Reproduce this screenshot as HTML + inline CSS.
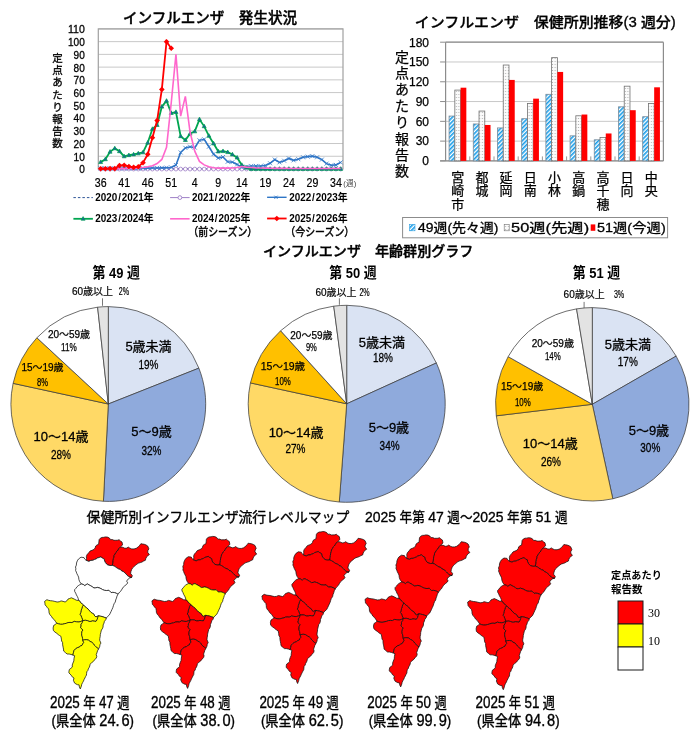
<!DOCTYPE html>
<html><head><meta charset="utf-8"><style>
html,body{margin:0;padding:0;background:#fff;width:700px;height:738px;overflow:hidden}
svg{display:block;font-family:"Liberation Sans", "Noto Sans CJK JP", sans-serif}
</style></head><body>
<svg width="700" height="738" viewBox="0 0 700 738">
<g id="linechart">
<text x="210.0" y="23.0" font-size="14.5" text-anchor="middle" font-weight="500" fill="#000" stroke="#000" stroke-width="0.4" textLength="174" lengthAdjust="spacingAndGlyphs" >インフルエンザ　発生状況</text>
<line x1="98.3" y1="169.00" x2="343.0" y2="169.00" stroke="#c8c8c8" stroke-width="1"/>
<line x1="98.3" y1="156.26" x2="343.0" y2="156.26" stroke="#c8c8c8" stroke-width="1"/>
<line x1="98.3" y1="143.53" x2="343.0" y2="143.53" stroke="#c8c8c8" stroke-width="1"/>
<line x1="98.3" y1="130.79" x2="343.0" y2="130.79" stroke="#c8c8c8" stroke-width="1"/>
<line x1="98.3" y1="118.05" x2="343.0" y2="118.05" stroke="#c8c8c8" stroke-width="1"/>
<line x1="98.3" y1="105.32" x2="343.0" y2="105.32" stroke="#c8c8c8" stroke-width="1"/>
<line x1="98.3" y1="92.58" x2="343.0" y2="92.58" stroke="#c8c8c8" stroke-width="1"/>
<line x1="98.3" y1="79.85" x2="343.0" y2="79.85" stroke="#c8c8c8" stroke-width="1"/>
<line x1="98.3" y1="67.11" x2="343.0" y2="67.11" stroke="#c8c8c8" stroke-width="1"/>
<line x1="98.3" y1="54.37" x2="343.0" y2="54.37" stroke="#c8c8c8" stroke-width="1"/>
<line x1="98.3" y1="41.64" x2="343.0" y2="41.64" stroke="#c8c8c8" stroke-width="1"/>
<line x1="98.3" y1="28.90" x2="343.0" y2="28.90" stroke="#c8c8c8" stroke-width="1"/>
<rect x="98.3" y="28.9" width="244.7" height="140.1" fill="none" stroke="#a0a0a0" stroke-width="1.2"/>
<text x="84.8" y="173.3" font-size="11" text-anchor="end" font-weight="normal" fill="#000" stroke="#000" stroke-width="0.3" textLength="5.6" lengthAdjust="spacingAndGlyphs" >0</text>
<text x="84.8" y="160.6" font-size="11" text-anchor="end" font-weight="normal" fill="#000" stroke="#000" stroke-width="0.3" textLength="11.2" lengthAdjust="spacingAndGlyphs" >10</text>
<text x="84.8" y="147.9" font-size="11" text-anchor="end" font-weight="normal" fill="#000" stroke="#000" stroke-width="0.3" textLength="11.2" lengthAdjust="spacingAndGlyphs" >20</text>
<text x="84.8" y="135.1" font-size="11" text-anchor="end" font-weight="normal" fill="#000" stroke="#000" stroke-width="0.3" textLength="11.2" lengthAdjust="spacingAndGlyphs" >30</text>
<text x="84.8" y="122.4" font-size="11" text-anchor="end" font-weight="normal" fill="#000" stroke="#000" stroke-width="0.3" textLength="11.2" lengthAdjust="spacingAndGlyphs" >40</text>
<text x="84.8" y="109.7" font-size="11" text-anchor="end" font-weight="normal" fill="#000" stroke="#000" stroke-width="0.3" textLength="11.2" lengthAdjust="spacingAndGlyphs" >50</text>
<text x="84.8" y="96.9" font-size="11" text-anchor="end" font-weight="normal" fill="#000" stroke="#000" stroke-width="0.3" textLength="11.2" lengthAdjust="spacingAndGlyphs" >60</text>
<text x="84.8" y="84.2" font-size="11" text-anchor="end" font-weight="normal" fill="#000" stroke="#000" stroke-width="0.3" textLength="11.2" lengthAdjust="spacingAndGlyphs" >70</text>
<text x="84.8" y="71.5" font-size="11" text-anchor="end" font-weight="normal" fill="#000" stroke="#000" stroke-width="0.3" textLength="11.2" lengthAdjust="spacingAndGlyphs" >80</text>
<text x="84.8" y="58.7" font-size="11" text-anchor="end" font-weight="normal" fill="#000" stroke="#000" stroke-width="0.3" textLength="11.2" lengthAdjust="spacingAndGlyphs" >90</text>
<text x="84.8" y="46.0" font-size="11" text-anchor="end" font-weight="normal" fill="#000" stroke="#000" stroke-width="0.3" textLength="16.799999999999997" lengthAdjust="spacingAndGlyphs" >100</text>
<text x="84.8" y="33.3" font-size="11" text-anchor="end" font-weight="normal" fill="#000" stroke="#000" stroke-width="0.3" textLength="16.799999999999997" lengthAdjust="spacingAndGlyphs" >110</text>
<text x="57.5" y="62.0" font-size="10.5" text-anchor="middle" font-weight="normal" fill="#000" stroke="#000" stroke-width="0.3" >定</text>
<text x="57.5" y="74.2" font-size="10.5" text-anchor="middle" font-weight="normal" fill="#000" stroke="#000" stroke-width="0.3" >点</text>
<text x="57.5" y="86.4" font-size="10.5" text-anchor="middle" font-weight="normal" fill="#000" stroke="#000" stroke-width="0.3" >あ</text>
<text x="57.5" y="98.6" font-size="10.5" text-anchor="middle" font-weight="normal" fill="#000" stroke="#000" stroke-width="0.3" >た</text>
<text x="57.5" y="110.8" font-size="10.5" text-anchor="middle" font-weight="normal" fill="#000" stroke="#000" stroke-width="0.3" >り</text>
<text x="57.5" y="123.0" font-size="10.5" text-anchor="middle" font-weight="normal" fill="#000" stroke="#000" stroke-width="0.3" >報</text>
<text x="57.5" y="135.2" font-size="10.5" text-anchor="middle" font-weight="normal" fill="#000" stroke="#000" stroke-width="0.3" >告</text>
<text x="57.5" y="147.4" font-size="10.5" text-anchor="middle" font-weight="normal" fill="#000" stroke="#000" stroke-width="0.3" >数</text>
<text x="100.7" y="186.9" font-size="12" text-anchor="middle" font-weight="normal" fill="#000" stroke="#000" stroke-width="0.2" textLength="11.8" lengthAdjust="spacingAndGlyphs" >36</text>
<text x="124.2" y="186.9" font-size="12" text-anchor="middle" font-weight="normal" fill="#000" stroke="#000" stroke-width="0.2" textLength="11.8" lengthAdjust="spacingAndGlyphs" >41</text>
<text x="147.7" y="186.9" font-size="12" text-anchor="middle" font-weight="normal" fill="#000" stroke="#000" stroke-width="0.2" textLength="11.8" lengthAdjust="spacingAndGlyphs" >46</text>
<text x="171.2" y="186.9" font-size="12" text-anchor="middle" font-weight="normal" fill="#000" stroke="#000" stroke-width="0.2" textLength="11.8" lengthAdjust="spacingAndGlyphs" >51</text>
<text x="194.8" y="186.9" font-size="12" text-anchor="middle" font-weight="normal" fill="#000" stroke="#000" stroke-width="0.2" textLength="5.9" lengthAdjust="spacingAndGlyphs" >4</text>
<text x="218.3" y="186.9" font-size="12" text-anchor="middle" font-weight="normal" fill="#000" stroke="#000" stroke-width="0.2" textLength="5.9" lengthAdjust="spacingAndGlyphs" >9</text>
<text x="241.8" y="186.9" font-size="12" text-anchor="middle" font-weight="normal" fill="#000" stroke="#000" stroke-width="0.2" textLength="11.8" lengthAdjust="spacingAndGlyphs" >14</text>
<text x="265.4" y="186.9" font-size="12" text-anchor="middle" font-weight="normal" fill="#000" stroke="#000" stroke-width="0.2" textLength="11.8" lengthAdjust="spacingAndGlyphs" >19</text>
<text x="288.9" y="186.9" font-size="12" text-anchor="middle" font-weight="normal" fill="#000" stroke="#000" stroke-width="0.2" textLength="11.8" lengthAdjust="spacingAndGlyphs" >24</text>
<text x="312.4" y="186.9" font-size="12" text-anchor="middle" font-weight="normal" fill="#000" stroke="#000" stroke-width="0.2" textLength="11.8" lengthAdjust="spacingAndGlyphs" >29</text>
<text x="335.9" y="186.9" font-size="12" text-anchor="middle" font-weight="normal" fill="#000" stroke="#000" stroke-width="0.2" textLength="11.8" lengthAdjust="spacingAndGlyphs" >34</text>
<text x="349.8" y="186.3" font-size="7.5" text-anchor="middle" font-weight="normal" fill="#444" textLength="13" lengthAdjust="spacingAndGlyphs" >(週)</text>
<path d="M100.65,168.62 L105.36,168.62 L110.06,168.62 L114.77,168.62 L119.48,168.62 L124.18,168.62 L128.89,168.62 L133.59,168.62 L138.30,168.62 L143.00,168.62 L147.71,168.62 L152.42,168.62 L157.12,168.62 L161.83,168.62 L166.53,168.62 L171.24,168.62 L175.95,168.62 L180.65,168.62 L185.36,168.62 L190.06,168.62 L194.77,168.62 L199.47,168.62 L204.18,168.62 L208.89,168.62 L213.59,168.62 L218.30,168.62 L223.00,168.62 L227.71,168.62 L232.41,168.62 L237.12,168.62 L241.83,168.62 L246.53,168.62 L251.24,168.62 L255.94,168.62 L260.65,168.62 L265.35,168.62 L270.06,168.62 L274.77,168.62 L279.47,168.62 L284.18,168.62 L288.88,168.62 L293.59,168.62 L298.30,168.62 L303.00,168.62 L307.71,168.62 L312.41,168.62 L317.12,168.62 L321.82,168.62 L326.53,168.62 L331.24,168.62 L335.94,168.62 L340.65,168.62" fill="none" stroke="#2f5597" stroke-width="1" stroke-dasharray="2.5,2"/>
<path d="M100.65,169.06 L105.36,169.06 L110.06,169.06 L114.77,169.06 L119.48,169.06 L124.18,169.06 L128.89,169.06 L133.59,169.06 L138.30,169.06 L143.00,169.06 L147.71,169.06 L152.42,169.06 L157.12,169.06 L161.83,169.06 L166.53,169.06 L171.24,169.06 L175.95,169.06 L180.65,169.06 L185.36,169.06 L190.06,169.06 L194.77,169.06 L199.47,169.06 L204.18,169.06 L208.89,169.06 L213.59,169.06 L218.30,169.06 L223.00,169.06 L227.71,169.06 L232.41,169.06 L237.12,169.06 L241.83,169.06 L246.53,169.06 L251.24,169.06 L255.94,169.06 L260.65,169.06 L265.35,169.06 L270.06,169.06 L274.77,169.06 L279.47,169.06 L284.18,169.06 L288.88,169.06 L293.59,169.06 L298.30,169.06 L303.00,169.06 L307.71,169.06 L312.41,169.06 L317.12,169.06 L321.82,169.06 L326.53,169.06 L331.24,169.06 L335.94,169.06 L340.65,169.06" fill="none" stroke="#9e7fc6" stroke-width="1"/>
<circle cx="100.65" cy="169.06" r="1.9" fill="#fff" stroke="#9e7fc6" stroke-width="0.8"/>
<circle cx="105.36" cy="169.06" r="1.9" fill="#fff" stroke="#9e7fc6" stroke-width="0.8"/>
<circle cx="110.06" cy="169.06" r="1.9" fill="#fff" stroke="#9e7fc6" stroke-width="0.8"/>
<circle cx="114.77" cy="169.06" r="1.9" fill="#fff" stroke="#9e7fc6" stroke-width="0.8"/>
<circle cx="119.48" cy="169.06" r="1.9" fill="#fff" stroke="#9e7fc6" stroke-width="0.8"/>
<circle cx="124.18" cy="169.06" r="1.9" fill="#fff" stroke="#9e7fc6" stroke-width="0.8"/>
<circle cx="128.89" cy="169.06" r="1.9" fill="#fff" stroke="#9e7fc6" stroke-width="0.8"/>
<circle cx="133.59" cy="169.06" r="1.9" fill="#fff" stroke="#9e7fc6" stroke-width="0.8"/>
<circle cx="138.30" cy="169.06" r="1.9" fill="#fff" stroke="#9e7fc6" stroke-width="0.8"/>
<circle cx="143.00" cy="169.06" r="1.9" fill="#fff" stroke="#9e7fc6" stroke-width="0.8"/>
<circle cx="147.71" cy="169.06" r="1.9" fill="#fff" stroke="#9e7fc6" stroke-width="0.8"/>
<circle cx="152.42" cy="169.06" r="1.9" fill="#fff" stroke="#9e7fc6" stroke-width="0.8"/>
<circle cx="157.12" cy="169.06" r="1.9" fill="#fff" stroke="#9e7fc6" stroke-width="0.8"/>
<circle cx="161.83" cy="169.06" r="1.9" fill="#fff" stroke="#9e7fc6" stroke-width="0.8"/>
<circle cx="166.53" cy="169.06" r="1.9" fill="#fff" stroke="#9e7fc6" stroke-width="0.8"/>
<circle cx="171.24" cy="169.06" r="1.9" fill="#fff" stroke="#9e7fc6" stroke-width="0.8"/>
<circle cx="175.95" cy="169.06" r="1.9" fill="#fff" stroke="#9e7fc6" stroke-width="0.8"/>
<circle cx="180.65" cy="169.06" r="1.9" fill="#fff" stroke="#9e7fc6" stroke-width="0.8"/>
<circle cx="185.36" cy="169.06" r="1.9" fill="#fff" stroke="#9e7fc6" stroke-width="0.8"/>
<circle cx="190.06" cy="169.06" r="1.9" fill="#fff" stroke="#9e7fc6" stroke-width="0.8"/>
<circle cx="194.77" cy="169.06" r="1.9" fill="#fff" stroke="#9e7fc6" stroke-width="0.8"/>
<circle cx="199.47" cy="169.06" r="1.9" fill="#fff" stroke="#9e7fc6" stroke-width="0.8"/>
<circle cx="204.18" cy="169.06" r="1.9" fill="#fff" stroke="#9e7fc6" stroke-width="0.8"/>
<circle cx="208.89" cy="169.06" r="1.9" fill="#fff" stroke="#9e7fc6" stroke-width="0.8"/>
<circle cx="213.59" cy="169.06" r="1.9" fill="#fff" stroke="#9e7fc6" stroke-width="0.8"/>
<circle cx="218.30" cy="169.06" r="1.9" fill="#fff" stroke="#9e7fc6" stroke-width="0.8"/>
<circle cx="223.00" cy="169.06" r="1.9" fill="#fff" stroke="#9e7fc6" stroke-width="0.8"/>
<circle cx="227.71" cy="169.06" r="1.9" fill="#fff" stroke="#9e7fc6" stroke-width="0.8"/>
<circle cx="232.41" cy="169.06" r="1.9" fill="#fff" stroke="#9e7fc6" stroke-width="0.8"/>
<circle cx="237.12" cy="169.06" r="1.9" fill="#fff" stroke="#9e7fc6" stroke-width="0.8"/>
<circle cx="241.83" cy="169.06" r="1.9" fill="#fff" stroke="#9e7fc6" stroke-width="0.8"/>
<circle cx="246.53" cy="169.06" r="1.9" fill="#fff" stroke="#9e7fc6" stroke-width="0.8"/>
<circle cx="251.24" cy="169.06" r="1.9" fill="#fff" stroke="#9e7fc6" stroke-width="0.8"/>
<circle cx="255.94" cy="169.06" r="1.9" fill="#fff" stroke="#9e7fc6" stroke-width="0.8"/>
<circle cx="260.65" cy="169.06" r="1.9" fill="#fff" stroke="#9e7fc6" stroke-width="0.8"/>
<circle cx="265.35" cy="169.06" r="1.9" fill="#fff" stroke="#9e7fc6" stroke-width="0.8"/>
<circle cx="270.06" cy="169.06" r="1.9" fill="#fff" stroke="#9e7fc6" stroke-width="0.8"/>
<circle cx="274.77" cy="169.06" r="1.9" fill="#fff" stroke="#9e7fc6" stroke-width="0.8"/>
<circle cx="279.47" cy="169.06" r="1.9" fill="#fff" stroke="#9e7fc6" stroke-width="0.8"/>
<circle cx="284.18" cy="169.06" r="1.9" fill="#fff" stroke="#9e7fc6" stroke-width="0.8"/>
<circle cx="288.88" cy="169.06" r="1.9" fill="#fff" stroke="#9e7fc6" stroke-width="0.8"/>
<circle cx="293.59" cy="169.06" r="1.9" fill="#fff" stroke="#9e7fc6" stroke-width="0.8"/>
<circle cx="298.30" cy="169.06" r="1.9" fill="#fff" stroke="#9e7fc6" stroke-width="0.8"/>
<circle cx="303.00" cy="169.06" r="1.9" fill="#fff" stroke="#9e7fc6" stroke-width="0.8"/>
<circle cx="307.71" cy="169.06" r="1.9" fill="#fff" stroke="#9e7fc6" stroke-width="0.8"/>
<circle cx="312.41" cy="169.06" r="1.9" fill="#fff" stroke="#9e7fc6" stroke-width="0.8"/>
<circle cx="317.12" cy="169.06" r="1.9" fill="#fff" stroke="#9e7fc6" stroke-width="0.8"/>
<circle cx="321.82" cy="169.06" r="1.9" fill="#fff" stroke="#9e7fc6" stroke-width="0.8"/>
<circle cx="326.53" cy="169.06" r="1.9" fill="#fff" stroke="#9e7fc6" stroke-width="0.8"/>
<circle cx="331.24" cy="169.06" r="1.9" fill="#fff" stroke="#9e7fc6" stroke-width="0.8"/>
<circle cx="335.94" cy="169.06" r="1.9" fill="#fff" stroke="#9e7fc6" stroke-width="0.8"/>
<circle cx="340.65" cy="169.06" r="1.9" fill="#fff" stroke="#9e7fc6" stroke-width="0.8"/>
<path d="M100.65,168.36 L105.36,168.36 L110.06,168.36 L114.77,168.36 L119.48,168.36 L124.18,168.36 L128.89,168.36 L133.59,168.36 L138.30,168.36 L143.00,168.24 L147.71,168.11 L152.42,167.98 L157.12,167.98 L161.83,167.85 L166.53,167.73 L171.24,167.47 L175.95,165.05 L180.65,152.44 L185.36,147.86 L190.06,146.71 L194.77,147.60 L199.47,140.34 L204.18,139.32 L208.89,146.71 L213.59,154.10 L218.30,158.05 L223.00,157.03 L227.71,161.74 L232.41,162.12 L237.12,164.41 L241.83,167.47 L246.53,166.71 L251.24,165.94 L255.94,165.94 L260.65,166.07 L265.35,165.56 L270.06,163.27 L274.77,159.58 L279.47,162.38 L284.18,160.72 L288.88,158.43 L293.59,160.34 L298.30,159.19 L303.00,157.28 L307.71,156.65 L312.41,156.14 L317.12,157.28 L321.82,159.58 L326.53,163.65 L331.24,165.31 L335.94,164.92 L340.65,162.38" fill="none" stroke="#2e75c6" stroke-width="1.6"/>
<path d="M98.65,166.36 L102.65,170.36 M98.65,170.36 L102.65,166.36" stroke="#2e75c6" stroke-width="0.8"/>
<path d="M103.36,166.36 L107.36,170.36 M103.36,170.36 L107.36,166.36" stroke="#2e75c6" stroke-width="0.8"/>
<path d="M108.06,166.36 L112.06,170.36 M108.06,170.36 L112.06,166.36" stroke="#2e75c6" stroke-width="0.8"/>
<path d="M112.77,166.36 L116.77,170.36 M112.77,170.36 L116.77,166.36" stroke="#2e75c6" stroke-width="0.8"/>
<path d="M117.48,166.36 L121.48,170.36 M117.48,170.36 L121.48,166.36" stroke="#2e75c6" stroke-width="0.8"/>
<path d="M122.18,166.36 L126.18,170.36 M122.18,170.36 L126.18,166.36" stroke="#2e75c6" stroke-width="0.8"/>
<path d="M126.89,166.36 L130.89,170.36 M126.89,170.36 L130.89,166.36" stroke="#2e75c6" stroke-width="0.8"/>
<path d="M131.59,166.36 L135.59,170.36 M131.59,170.36 L135.59,166.36" stroke="#2e75c6" stroke-width="0.8"/>
<path d="M136.30,166.36 L140.30,170.36 M136.30,170.36 L140.30,166.36" stroke="#2e75c6" stroke-width="0.8"/>
<path d="M141.00,166.24 L145.00,170.24 M141.00,170.24 L145.00,166.24" stroke="#2e75c6" stroke-width="0.8"/>
<path d="M145.71,166.11 L149.71,170.11 M145.71,170.11 L149.71,166.11" stroke="#2e75c6" stroke-width="0.8"/>
<path d="M150.42,165.98 L154.42,169.98 M150.42,169.98 L154.42,165.98" stroke="#2e75c6" stroke-width="0.8"/>
<path d="M155.12,165.98 L159.12,169.98 M155.12,169.98 L159.12,165.98" stroke="#2e75c6" stroke-width="0.8"/>
<path d="M159.83,165.85 L163.83,169.85 M159.83,169.85 L163.83,165.85" stroke="#2e75c6" stroke-width="0.8"/>
<path d="M164.53,165.73 L168.53,169.73 M164.53,169.73 L168.53,165.73" stroke="#2e75c6" stroke-width="0.8"/>
<path d="M169.24,165.47 L173.24,169.47 M169.24,169.47 L173.24,165.47" stroke="#2e75c6" stroke-width="0.8"/>
<path d="M173.95,163.05 L177.95,167.05 M173.95,167.05 L177.95,163.05" stroke="#2e75c6" stroke-width="0.8"/>
<path d="M178.65,150.44 L182.65,154.44 M178.65,154.44 L182.65,150.44" stroke="#2e75c6" stroke-width="0.8"/>
<path d="M183.36,145.86 L187.36,149.86 M183.36,149.86 L187.36,145.86" stroke="#2e75c6" stroke-width="0.8"/>
<path d="M188.06,144.71 L192.06,148.71 M188.06,148.71 L192.06,144.71" stroke="#2e75c6" stroke-width="0.8"/>
<path d="M192.77,145.60 L196.77,149.60 M192.77,149.60 L196.77,145.60" stroke="#2e75c6" stroke-width="0.8"/>
<path d="M197.47,138.34 L201.47,142.34 M197.47,142.34 L201.47,138.34" stroke="#2e75c6" stroke-width="0.8"/>
<path d="M202.18,137.32 L206.18,141.32 M202.18,141.32 L206.18,137.32" stroke="#2e75c6" stroke-width="0.8"/>
<path d="M206.89,144.71 L210.89,148.71 M206.89,148.71 L210.89,144.71" stroke="#2e75c6" stroke-width="0.8"/>
<path d="M211.59,152.10 L215.59,156.10 M211.59,156.10 L215.59,152.10" stroke="#2e75c6" stroke-width="0.8"/>
<path d="M216.30,156.05 L220.30,160.05 M216.30,160.05 L220.30,156.05" stroke="#2e75c6" stroke-width="0.8"/>
<path d="M221.00,155.03 L225.00,159.03 M221.00,159.03 L225.00,155.03" stroke="#2e75c6" stroke-width="0.8"/>
<path d="M225.71,159.74 L229.71,163.74 M225.71,163.74 L229.71,159.74" stroke="#2e75c6" stroke-width="0.8"/>
<path d="M230.41,160.12 L234.41,164.12 M230.41,164.12 L234.41,160.12" stroke="#2e75c6" stroke-width="0.8"/>
<path d="M235.12,162.41 L239.12,166.41 M235.12,166.41 L239.12,162.41" stroke="#2e75c6" stroke-width="0.8"/>
<path d="M239.83,165.47 L243.83,169.47 M239.83,169.47 L243.83,165.47" stroke="#2e75c6" stroke-width="0.8"/>
<path d="M244.53,164.71 L248.53,168.71 M244.53,168.71 L248.53,164.71" stroke="#2e75c6" stroke-width="0.8"/>
<path d="M249.24,163.94 L253.24,167.94 M249.24,167.94 L253.24,163.94" stroke="#2e75c6" stroke-width="0.8"/>
<path d="M253.94,163.94 L257.94,167.94 M253.94,167.94 L257.94,163.94" stroke="#2e75c6" stroke-width="0.8"/>
<path d="M258.65,164.07 L262.65,168.07 M258.65,168.07 L262.65,164.07" stroke="#2e75c6" stroke-width="0.8"/>
<path d="M263.35,163.56 L267.35,167.56 M263.35,167.56 L267.35,163.56" stroke="#2e75c6" stroke-width="0.8"/>
<path d="M268.06,161.27 L272.06,165.27 M268.06,165.27 L272.06,161.27" stroke="#2e75c6" stroke-width="0.8"/>
<path d="M272.77,157.58 L276.77,161.58 M272.77,161.58 L276.77,157.58" stroke="#2e75c6" stroke-width="0.8"/>
<path d="M277.47,160.38 L281.47,164.38 M277.47,164.38 L281.47,160.38" stroke="#2e75c6" stroke-width="0.8"/>
<path d="M282.18,158.72 L286.18,162.72 M282.18,162.72 L286.18,158.72" stroke="#2e75c6" stroke-width="0.8"/>
<path d="M286.88,156.43 L290.88,160.43 M286.88,160.43 L290.88,156.43" stroke="#2e75c6" stroke-width="0.8"/>
<path d="M291.59,158.34 L295.59,162.34 M291.59,162.34 L295.59,158.34" stroke="#2e75c6" stroke-width="0.8"/>
<path d="M296.30,157.19 L300.30,161.19 M296.30,161.19 L300.30,157.19" stroke="#2e75c6" stroke-width="0.8"/>
<path d="M301.00,155.28 L305.00,159.28 M301.00,159.28 L305.00,155.28" stroke="#2e75c6" stroke-width="0.8"/>
<path d="M305.71,154.65 L309.71,158.65 M305.71,158.65 L309.71,154.65" stroke="#2e75c6" stroke-width="0.8"/>
<path d="M310.41,154.14 L314.41,158.14 M310.41,158.14 L314.41,154.14" stroke="#2e75c6" stroke-width="0.8"/>
<path d="M315.12,155.28 L319.12,159.28 M315.12,159.28 L319.12,155.28" stroke="#2e75c6" stroke-width="0.8"/>
<path d="M319.82,157.58 L323.82,161.58 M319.82,161.58 L323.82,157.58" stroke="#2e75c6" stroke-width="0.8"/>
<path d="M324.53,161.65 L328.53,165.65 M324.53,165.65 L328.53,161.65" stroke="#2e75c6" stroke-width="0.8"/>
<path d="M329.24,163.31 L333.24,167.31 M329.24,167.31 L333.24,163.31" stroke="#2e75c6" stroke-width="0.8"/>
<path d="M333.94,162.92 L337.94,166.92 M333.94,166.92 L337.94,162.92" stroke="#2e75c6" stroke-width="0.8"/>
<path d="M338.65,160.38 L342.65,164.38 M338.65,164.38 L342.65,160.38" stroke="#2e75c6" stroke-width="0.8"/>
<path d="M100.65,162.12 L105.36,159.32 L110.06,151.81 L114.77,148.37 L119.48,151.30 L124.18,156.39 L128.89,155.24 L133.59,154.48 L138.30,153.46 L143.00,152.44 L147.71,142.76 L152.42,129.01 L157.12,125.06 L161.83,106.72 L166.53,100.86 L171.24,113.09 L175.95,112.07 L180.65,136.27 L185.36,140.09 L190.06,133.72 L194.77,131.43 L199.47,119.33 L204.18,126.33 L208.89,135.89 L213.59,143.53 L218.30,151.55 L223.00,151.17 L227.71,152.19 L232.41,154.48 L237.12,157.66 L241.83,165.05 L246.53,167.73 L251.24,169.00 L255.94,169.00 L260.65,169.00 L265.35,169.00 L270.06,169.00 L274.77,169.00 L279.47,169.00 L284.18,169.00 L288.88,169.00 L293.59,169.00 L298.30,169.00 L303.00,169.00 L307.71,169.00 L312.41,169.00 L317.12,169.00 L321.82,169.00 L326.53,169.00 L331.24,169.00 L335.94,169.00 L340.65,169.00" fill="none" stroke="#00a550" stroke-width="1.8"/>
<path d="M100.65,159.92 L102.65,163.52 L98.65,163.52 Z" fill="#1f5fa0" stroke="#00a550" stroke-width="0.7"/>
<path d="M105.36,157.12 L107.36,160.72 L103.36,160.72 Z" fill="#1f5fa0" stroke="#00a550" stroke-width="0.7"/>
<path d="M110.06,149.61 L112.06,153.21 L108.06,153.21 Z" fill="#1f5fa0" stroke="#00a550" stroke-width="0.7"/>
<path d="M114.77,146.17 L116.77,149.77 L112.77,149.77 Z" fill="#1f5fa0" stroke="#00a550" stroke-width="0.7"/>
<path d="M119.48,149.10 L121.48,152.70 L117.48,152.70 Z" fill="#1f5fa0" stroke="#00a550" stroke-width="0.7"/>
<path d="M124.18,154.19 L126.18,157.79 L122.18,157.79 Z" fill="#1f5fa0" stroke="#00a550" stroke-width="0.7"/>
<path d="M128.89,153.04 L130.89,156.64 L126.89,156.64 Z" fill="#1f5fa0" stroke="#00a550" stroke-width="0.7"/>
<path d="M133.59,152.28 L135.59,155.88 L131.59,155.88 Z" fill="#1f5fa0" stroke="#00a550" stroke-width="0.7"/>
<path d="M138.30,151.26 L140.30,154.86 L136.30,154.86 Z" fill="#1f5fa0" stroke="#00a550" stroke-width="0.7"/>
<path d="M143.00,150.24 L145.00,153.84 L141.00,153.84 Z" fill="#1f5fa0" stroke="#00a550" stroke-width="0.7"/>
<path d="M147.71,140.56 L149.71,144.16 L145.71,144.16 Z" fill="#1f5fa0" stroke="#00a550" stroke-width="0.7"/>
<path d="M152.42,126.81 L154.42,130.41 L150.42,130.41 Z" fill="#1f5fa0" stroke="#00a550" stroke-width="0.7"/>
<path d="M157.12,122.86 L159.12,126.46 L155.12,126.46 Z" fill="#1f5fa0" stroke="#00a550" stroke-width="0.7"/>
<path d="M161.83,104.52 L163.83,108.12 L159.83,108.12 Z" fill="#1f5fa0" stroke="#00a550" stroke-width="0.7"/>
<path d="M166.53,98.66 L168.53,102.26 L164.53,102.26 Z" fill="#1f5fa0" stroke="#00a550" stroke-width="0.7"/>
<path d="M171.24,110.89 L173.24,114.49 L169.24,114.49 Z" fill="#1f5fa0" stroke="#00a550" stroke-width="0.7"/>
<path d="M175.95,109.87 L177.95,113.47 L173.95,113.47 Z" fill="#1f5fa0" stroke="#00a550" stroke-width="0.7"/>
<path d="M180.65,134.07 L182.65,137.67 L178.65,137.67 Z" fill="#1f5fa0" stroke="#00a550" stroke-width="0.7"/>
<path d="M185.36,137.89 L187.36,141.49 L183.36,141.49 Z" fill="#1f5fa0" stroke="#00a550" stroke-width="0.7"/>
<path d="M190.06,131.52 L192.06,135.12 L188.06,135.12 Z" fill="#1f5fa0" stroke="#00a550" stroke-width="0.7"/>
<path d="M194.77,129.23 L196.77,132.83 L192.77,132.83 Z" fill="#1f5fa0" stroke="#00a550" stroke-width="0.7"/>
<path d="M199.47,117.13 L201.47,120.73 L197.47,120.73 Z" fill="#1f5fa0" stroke="#00a550" stroke-width="0.7"/>
<path d="M204.18,124.13 L206.18,127.73 L202.18,127.73 Z" fill="#1f5fa0" stroke="#00a550" stroke-width="0.7"/>
<path d="M208.89,133.69 L210.89,137.29 L206.89,137.29 Z" fill="#1f5fa0" stroke="#00a550" stroke-width="0.7"/>
<path d="M213.59,141.33 L215.59,144.93 L211.59,144.93 Z" fill="#1f5fa0" stroke="#00a550" stroke-width="0.7"/>
<path d="M218.30,149.35 L220.30,152.95 L216.30,152.95 Z" fill="#1f5fa0" stroke="#00a550" stroke-width="0.7"/>
<path d="M223.00,148.97 L225.00,152.57 L221.00,152.57 Z" fill="#1f5fa0" stroke="#00a550" stroke-width="0.7"/>
<path d="M227.71,149.99 L229.71,153.59 L225.71,153.59 Z" fill="#1f5fa0" stroke="#00a550" stroke-width="0.7"/>
<path d="M232.41,152.28 L234.41,155.88 L230.41,155.88 Z" fill="#1f5fa0" stroke="#00a550" stroke-width="0.7"/>
<path d="M237.12,155.46 L239.12,159.06 L235.12,159.06 Z" fill="#1f5fa0" stroke="#00a550" stroke-width="0.7"/>
<path d="M241.83,162.85 L243.83,166.45 L239.83,166.45 Z" fill="#1f5fa0" stroke="#00a550" stroke-width="0.7"/>
<path d="M246.53,165.53 L248.53,169.13 L244.53,169.13 Z" fill="#1f5fa0" stroke="#00a550" stroke-width="0.7"/>
<path d="M251.24,166.80 L253.24,170.40 L249.24,170.40 Z" fill="#1f5fa0" stroke="#00a550" stroke-width="0.7"/>
<path d="M255.94,166.80 L257.94,170.40 L253.94,170.40 Z" fill="#1f5fa0" stroke="#00a550" stroke-width="0.7"/>
<path d="M260.65,166.80 L262.65,170.40 L258.65,170.40 Z" fill="#1f5fa0" stroke="#00a550" stroke-width="0.7"/>
<path d="M265.35,166.80 L267.35,170.40 L263.35,170.40 Z" fill="#1f5fa0" stroke="#00a550" stroke-width="0.7"/>
<path d="M270.06,166.80 L272.06,170.40 L268.06,170.40 Z" fill="#1f5fa0" stroke="#00a550" stroke-width="0.7"/>
<path d="M274.77,166.80 L276.77,170.40 L272.77,170.40 Z" fill="#1f5fa0" stroke="#00a550" stroke-width="0.7"/>
<path d="M279.47,166.80 L281.47,170.40 L277.47,170.40 Z" fill="#1f5fa0" stroke="#00a550" stroke-width="0.7"/>
<path d="M284.18,166.80 L286.18,170.40 L282.18,170.40 Z" fill="#1f5fa0" stroke="#00a550" stroke-width="0.7"/>
<path d="M288.88,166.80 L290.88,170.40 L286.88,170.40 Z" fill="#1f5fa0" stroke="#00a550" stroke-width="0.7"/>
<path d="M293.59,166.80 L295.59,170.40 L291.59,170.40 Z" fill="#1f5fa0" stroke="#00a550" stroke-width="0.7"/>
<path d="M298.30,166.80 L300.30,170.40 L296.30,170.40 Z" fill="#1f5fa0" stroke="#00a550" stroke-width="0.7"/>
<path d="M303.00,166.80 L305.00,170.40 L301.00,170.40 Z" fill="#1f5fa0" stroke="#00a550" stroke-width="0.7"/>
<path d="M307.71,166.80 L309.71,170.40 L305.71,170.40 Z" fill="#1f5fa0" stroke="#00a550" stroke-width="0.7"/>
<path d="M312.41,166.80 L314.41,170.40 L310.41,170.40 Z" fill="#1f5fa0" stroke="#00a550" stroke-width="0.7"/>
<path d="M317.12,166.80 L319.12,170.40 L315.12,170.40 Z" fill="#1f5fa0" stroke="#00a550" stroke-width="0.7"/>
<path d="M321.82,166.80 L323.82,170.40 L319.82,170.40 Z" fill="#1f5fa0" stroke="#00a550" stroke-width="0.7"/>
<path d="M326.53,166.80 L328.53,170.40 L324.53,170.40 Z" fill="#1f5fa0" stroke="#00a550" stroke-width="0.7"/>
<path d="M331.24,166.80 L333.24,170.40 L329.24,170.40 Z" fill="#1f5fa0" stroke="#00a550" stroke-width="0.7"/>
<path d="M335.94,166.80 L337.94,170.40 L333.94,170.40 Z" fill="#1f5fa0" stroke="#00a550" stroke-width="0.7"/>
<path d="M340.65,166.80 L342.65,170.40 L338.65,170.40 Z" fill="#1f5fa0" stroke="#00a550" stroke-width="0.7"/>
<path d="M100.65,168.62 L105.36,168.62 L110.06,168.62 L114.77,168.62 L119.48,168.62 L124.18,168.62 L128.89,168.49 L133.59,168.36 L138.30,167.98 L143.00,167.47 L147.71,166.71 L152.42,165.69 L157.12,163.52 L161.83,159.45 L166.53,147.35 L171.24,102.77 L175.95,54.37 L180.65,116.14 L185.36,96.40 L190.06,132.06 L194.77,151.17 L199.47,161.36 L204.18,164.92 L208.89,166.83 L213.59,167.73 L218.30,168.11 L223.00,168.11 L227.71,168.11 L232.41,167.98 L237.12,167.47 L241.83,166.45 L246.53,167.09 L251.24,167.47 L255.94,167.85 L260.65,167.98 L265.35,168.11 L270.06,168.24 L274.77,168.36 L279.47,168.36 L284.18,168.36 L288.88,168.49 L293.59,168.49 L298.30,168.49 L303.00,168.49 L307.71,168.49 L312.41,168.49 L317.12,168.49 L321.82,168.49 L326.53,168.49 L331.24,168.49 L335.94,168.49 L340.65,168.49" fill="none" stroke="#ff66cc" stroke-width="1.6"/>
<path d="M100.65,168.75 L105.36,168.75 L110.06,168.62 L114.77,168.62 L119.48,165.56 L124.18,165.18 L128.89,166.45 L133.59,167.34 L138.30,166.71 L143.00,162.76 L147.71,154.35 L152.42,137.67 L157.12,120.60 L161.83,89.40 L166.53,41.76 L171.24,48.26" fill="none" stroke="#ff0000" stroke-width="1.8"/>
<path d="M100.65,165.95 L103.45,168.75 L100.65,171.55 L97.85,168.75 Z" fill="#ff0000"/>
<path d="M105.36,165.95 L108.16,168.75 L105.36,171.55 L102.56,168.75 Z" fill="#ff0000"/>
<path d="M110.06,165.82 L112.86,168.62 L110.06,171.42 L107.26,168.62 Z" fill="#ff0000"/>
<path d="M114.77,165.82 L117.57,168.62 L114.77,171.42 L111.97,168.62 Z" fill="#ff0000"/>
<path d="M119.48,162.76 L122.28,165.56 L119.48,168.36 L116.68,165.56 Z" fill="#ff0000"/>
<path d="M124.18,162.38 L126.98,165.18 L124.18,167.98 L121.38,165.18 Z" fill="#ff0000"/>
<path d="M128.89,163.65 L131.69,166.45 L128.89,169.25 L126.09,166.45 Z" fill="#ff0000"/>
<path d="M133.59,164.54 L136.39,167.34 L133.59,170.14 L130.79,167.34 Z" fill="#ff0000"/>
<path d="M138.30,163.91 L141.10,166.71 L138.30,169.51 L135.50,166.71 Z" fill="#ff0000"/>
<path d="M143.00,159.96 L145.80,162.76 L143.00,165.56 L140.20,162.76 Z" fill="#ff0000"/>
<path d="M147.71,151.55 L150.51,154.35 L147.71,157.15 L144.91,154.35 Z" fill="#ff0000"/>
<path d="M152.42,134.87 L155.22,137.67 L152.42,140.47 L149.62,137.67 Z" fill="#ff0000"/>
<path d="M157.12,117.80 L159.92,120.60 L157.12,123.40 L154.32,120.60 Z" fill="#ff0000"/>
<path d="M161.83,86.60 L164.63,89.40 L161.83,92.20 L159.03,89.40 Z" fill="#ff0000"/>
<path d="M166.53,38.96 L169.33,41.76 L166.53,44.56 L163.73,41.76 Z" fill="#ff0000"/>
<path d="M171.24,45.46 L174.04,48.26 L171.24,51.06 L168.44,48.26 Z" fill="#ff0000"/>
<line x1="73.4" y1="197.6" x2="92.9" y2="197.6" stroke="#2f5597" stroke-width="1" stroke-dasharray="2.5,2"/>
<text x="95.3" y="201.0" font-size="10.5" text-anchor="start" font-weight="bold" fill="#000" textLength="58.4" lengthAdjust="spacingAndGlyphs" >2020<tspan dx="0.9">/</tspan><tspan dx="0.9">2021</tspan>年</text>
<line x1="170.1" y1="197.6" x2="189.6" y2="197.6" stroke="#9e7fc6" stroke-width="1"/>
<circle cx="179.9" cy="197.6" r="1.9" fill="#fff" stroke="#9e7fc6" stroke-width="0.9"/>
<text x="192.0" y="201.0" font-size="10.5" text-anchor="start" font-weight="bold" fill="#000" textLength="58.4" lengthAdjust="spacingAndGlyphs" >2021<tspan dx="0.9">/</tspan><tspan dx="0.9">2022</tspan>年</text>
<line x1="267.1" y1="197.3" x2="286.6" y2="197.3" stroke="#2e75c6" stroke-width="1.4"/>
<path d="M274.4,195.7 L277.6,198.9 M274.4,198.9 L277.6,195.7" stroke="#2e75c6" stroke-width="0.9"/>
<text x="289.2" y="201.0" font-size="10.5" text-anchor="start" font-weight="bold" fill="#000" textLength="58.4" lengthAdjust="spacingAndGlyphs" >2022<tspan dx="0.9">/</tspan><tspan dx="0.9">2023</tspan>年</text>
<line x1="73.4" y1="218.8" x2="92.9" y2="218.8" stroke="#00a550" stroke-width="1.8"/>
<path d="M83.1,216.6 L85.1,220.2 L81.1,220.2 Z" fill="#1f5fa0" stroke="#00a550" stroke-width="0.7"/>
<text x="95.3" y="222.0" font-size="10.5" text-anchor="start" font-weight="bold" fill="#000" textLength="58.4" lengthAdjust="spacingAndGlyphs" >2023<tspan dx="0.9">/</tspan><tspan dx="0.9">2024</tspan>年</text>
<line x1="170.1" y1="218.8" x2="189.6" y2="218.8" stroke="#ff66cc" stroke-width="1.6"/>
<text x="192.0" y="222.0" font-size="10.5" text-anchor="start" font-weight="bold" fill="#000" textLength="58.4" lengthAdjust="spacingAndGlyphs" >2024<tspan dx="0.9">/</tspan><tspan dx="0.9">2025</tspan>年</text>
<text x="188.3" y="236.3" font-size="11.5" text-anchor="start" font-weight="normal" fill="#000" stroke="#000" stroke-width="0.45" textLength="69" lengthAdjust="spacingAndGlyphs" >（前シーズン）</text>
<line x1="267.1" y1="218.5" x2="286.6" y2="218.5" stroke="#ff0000" stroke-width="1.8"/>
<path d="M276.8,215.7 L279.6,218.5 L276.8,221.3 L274,218.5 Z" fill="#ff0000"/>
<text x="289.2" y="222.0" font-size="10.5" text-anchor="start" font-weight="bold" fill="#000" textLength="58.4" lengthAdjust="spacingAndGlyphs" >2025<tspan dx="0.9">/</tspan><tspan dx="0.9">2026</tspan>年</text>
<text x="285.3" y="236.3" font-size="11.5" text-anchor="start" font-weight="normal" fill="#000" stroke="#000" stroke-width="0.45" textLength="69" lengthAdjust="spacingAndGlyphs" >（今シーズン）</text>
</g>
<g id="barchart">
<text x="545.3" y="27.4" font-size="14" text-anchor="middle" font-weight="500" fill="#000" stroke="#000" stroke-width="0.3" textLength="261" lengthAdjust="spacingAndGlyphs" >インフルエンザ　保健所別推移(3 週分)</text>
<line x1="445.6" y1="160.90" x2="663.4" y2="160.90" stroke="#c8c8c8" stroke-width="1"/>
<line x1="440.1" y1="160.90" x2="445.6" y2="160.90" stroke="#8c8c8c" stroke-width="1"/>
<text x="429.0" y="165.2" font-size="12" text-anchor="end" font-weight="normal" fill="#000" stroke="#000" stroke-width="0.25" >0</text>
<line x1="445.6" y1="141.12" x2="663.4" y2="141.12" stroke="#c8c8c8" stroke-width="1"/>
<line x1="440.1" y1="141.12" x2="445.6" y2="141.12" stroke="#8c8c8c" stroke-width="1"/>
<text x="429.0" y="145.4" font-size="12" text-anchor="end" font-weight="normal" fill="#000" stroke="#000" stroke-width="0.25" >30</text>
<line x1="445.6" y1="121.33" x2="663.4" y2="121.33" stroke="#c8c8c8" stroke-width="1"/>
<line x1="440.1" y1="121.33" x2="445.6" y2="121.33" stroke="#8c8c8c" stroke-width="1"/>
<text x="429.0" y="125.6" font-size="12" text-anchor="end" font-weight="normal" fill="#000" stroke="#000" stroke-width="0.25" >60</text>
<line x1="445.6" y1="101.55" x2="663.4" y2="101.55" stroke="#c8c8c8" stroke-width="1"/>
<line x1="440.1" y1="101.55" x2="445.6" y2="101.55" stroke="#8c8c8c" stroke-width="1"/>
<text x="429.0" y="105.9" font-size="12" text-anchor="end" font-weight="normal" fill="#000" stroke="#000" stroke-width="0.25" >90</text>
<line x1="445.6" y1="81.77" x2="663.4" y2="81.77" stroke="#c8c8c8" stroke-width="1"/>
<line x1="440.1" y1="81.77" x2="445.6" y2="81.77" stroke="#8c8c8c" stroke-width="1"/>
<text x="429.0" y="86.1" font-size="12" text-anchor="end" font-weight="normal" fill="#000" stroke="#000" stroke-width="0.25" >120</text>
<line x1="445.6" y1="61.98" x2="663.4" y2="61.98" stroke="#c8c8c8" stroke-width="1"/>
<line x1="440.1" y1="61.98" x2="445.6" y2="61.98" stroke="#8c8c8c" stroke-width="1"/>
<text x="429.0" y="66.3" font-size="12" text-anchor="end" font-weight="normal" fill="#000" stroke="#000" stroke-width="0.25" >150</text>
<line x1="445.6" y1="42.20" x2="663.4" y2="42.20" stroke="#c8c8c8" stroke-width="1"/>
<line x1="440.1" y1="42.20" x2="445.6" y2="42.20" stroke="#8c8c8c" stroke-width="1"/>
<text x="429.0" y="46.5" font-size="12" text-anchor="end" font-weight="normal" fill="#000" stroke="#000" stroke-width="0.25" >180</text>
<line x1="445.6" y1="42.2" x2="663.4" y2="42.2" stroke="#8c8c8c" stroke-width="1.2"/>
<line x1="445.6" y1="42.2" x2="445.6" y2="160.9" stroke="#8c8c8c" stroke-width="1.2"/>
<line x1="663.4" y1="42.2" x2="663.4" y2="160.9" stroke="#8c8c8c" stroke-width="1.2"/>
<line x1="440.1" y1="160.9" x2="663.4" y2="160.9" stroke="#8c8c8c" stroke-width="1.2"/>
<defs>
<pattern id="hatch" patternUnits="userSpaceOnUse" width="3" height="3" patternTransform="rotate(45)">
<rect width="3" height="3" fill="#fff"/><rect width="1.6" height="3" fill="#149be8"/></pattern>
<pattern id="dots" patternUnits="userSpaceOnUse" width="2.6" height="3">
<rect width="2.6" height="3" fill="#fbfbfb"/><rect x="0.8" y="1" width="1" height="1" fill="#b4b4b4"/></pattern>
</defs>
<line x1="469.80" y1="156.4" x2="469.80" y2="160.9" stroke="#8c8c8c" stroke-width="0.9"/>
<line x1="494.00" y1="156.4" x2="494.00" y2="160.9" stroke="#8c8c8c" stroke-width="0.9"/>
<line x1="518.20" y1="156.4" x2="518.20" y2="160.9" stroke="#8c8c8c" stroke-width="0.9"/>
<line x1="542.40" y1="156.4" x2="542.40" y2="160.9" stroke="#8c8c8c" stroke-width="0.9"/>
<line x1="566.60" y1="156.4" x2="566.60" y2="160.9" stroke="#8c8c8c" stroke-width="0.9"/>
<line x1="590.80" y1="156.4" x2="590.80" y2="160.9" stroke="#8c8c8c" stroke-width="0.9"/>
<line x1="615.00" y1="156.4" x2="615.00" y2="160.9" stroke="#8c8c8c" stroke-width="0.9"/>
<line x1="639.20" y1="156.4" x2="639.20" y2="160.9" stroke="#8c8c8c" stroke-width="0.9"/>
<rect x="449.08" y="116.06" width="5.75" height="44.84" fill="url(#hatch)" stroke="#7a8a98" stroke-width="0.8"/>
<rect x="454.83" y="90.08" width="5.75" height="70.82" fill="url(#dots)" stroke="#707070" stroke-width="0.8"/>
<rect x="460.58" y="87.70" width="5.75" height="73.20" fill="#ff0000"/>
<text x="457.7" y="181.5" font-size="13" text-anchor="middle" font-weight="normal" fill="#000" stroke="#000" stroke-width="0.25" >宮</text>
<text x="457.7" y="195.2" font-size="13" text-anchor="middle" font-weight="normal" fill="#000" stroke="#000" stroke-width="0.25" >崎</text>
<text x="457.7" y="208.9" font-size="13" text-anchor="middle" font-weight="normal" fill="#000" stroke="#000" stroke-width="0.25" >市</text>
<rect x="473.28" y="123.97" width="5.75" height="36.93" fill="url(#hatch)" stroke="#7a8a98" stroke-width="0.8"/>
<rect x="479.03" y="111.05" width="5.75" height="49.85" fill="url(#dots)" stroke="#707070" stroke-width="0.8"/>
<rect x="484.78" y="124.96" width="5.75" height="35.94" fill="#ff0000"/>
<text x="481.9" y="181.5" font-size="13" text-anchor="middle" font-weight="normal" fill="#000" stroke="#000" stroke-width="0.25" >都</text>
<text x="481.9" y="195.2" font-size="13" text-anchor="middle" font-weight="normal" fill="#000" stroke="#000" stroke-width="0.25" >城</text>
<rect x="497.48" y="127.93" width="5.75" height="32.97" fill="url(#hatch)" stroke="#7a8a98" stroke-width="0.8"/>
<rect x="503.23" y="65.02" width="5.75" height="95.88" fill="url(#dots)" stroke="#707070" stroke-width="0.8"/>
<rect x="508.98" y="79.92" width="5.75" height="80.98" fill="#ff0000"/>
<text x="506.1" y="181.5" font-size="13" text-anchor="middle" font-weight="normal" fill="#000" stroke="#000" stroke-width="0.25" >延</text>
<text x="506.1" y="195.2" font-size="13" text-anchor="middle" font-weight="normal" fill="#000" stroke="#000" stroke-width="0.25" >岡</text>
<rect x="521.67" y="118.70" width="5.75" height="42.20" fill="url(#hatch)" stroke="#7a8a98" stroke-width="0.8"/>
<rect x="527.42" y="103.40" width="5.75" height="57.50" fill="url(#dots)" stroke="#707070" stroke-width="0.8"/>
<rect x="533.17" y="98.65" width="5.75" height="62.25" fill="#ff0000"/>
<text x="530.3" y="181.5" font-size="13" text-anchor="middle" font-weight="normal" fill="#000" stroke="#000" stroke-width="0.25" >日</text>
<text x="530.3" y="195.2" font-size="13" text-anchor="middle" font-weight="normal" fill="#000" stroke="#000" stroke-width="0.25" >南</text>
<rect x="545.88" y="94.30" width="5.75" height="66.60" fill="url(#hatch)" stroke="#7a8a98" stroke-width="0.8"/>
<rect x="551.62" y="57.63" width="5.75" height="103.27" fill="url(#dots)" stroke="#707070" stroke-width="0.8"/>
<rect x="557.38" y="71.94" width="5.75" height="88.96" fill="#ff0000"/>
<text x="554.5" y="181.5" font-size="13" text-anchor="middle" font-weight="normal" fill="#000" stroke="#000" stroke-width="0.25" >小</text>
<text x="554.5" y="195.2" font-size="13" text-anchor="middle" font-weight="normal" fill="#000" stroke="#000" stroke-width="0.25" >林</text>
<rect x="570.08" y="135.84" width="5.75" height="25.06" fill="url(#hatch)" stroke="#7a8a98" stroke-width="0.8"/>
<rect x="575.83" y="115.79" width="5.75" height="45.11" fill="url(#dots)" stroke="#707070" stroke-width="0.8"/>
<rect x="581.58" y="114.54" width="5.75" height="46.36" fill="#ff0000"/>
<text x="578.7" y="181.5" font-size="13" text-anchor="middle" font-weight="normal" fill="#000" stroke="#000" stroke-width="0.25" >高</text>
<text x="578.7" y="195.2" font-size="13" text-anchor="middle" font-weight="normal" fill="#000" stroke="#000" stroke-width="0.25" >鍋</text>
<rect x="594.27" y="139.80" width="5.75" height="21.10" fill="url(#hatch)" stroke="#7a8a98" stroke-width="0.8"/>
<rect x="600.02" y="137.49" width="5.75" height="23.41" fill="url(#dots)" stroke="#707070" stroke-width="0.8"/>
<rect x="605.77" y="133.47" width="5.75" height="27.43" fill="#ff0000"/>
<text x="602.9" y="181.5" font-size="13" text-anchor="middle" font-weight="normal" fill="#000" stroke="#000" stroke-width="0.25" >高</text>
<text x="602.9" y="195.2" font-size="13" text-anchor="middle" font-weight="normal" fill="#000" stroke="#000" stroke-width="0.25" >千</text>
<text x="602.9" y="208.9" font-size="13" text-anchor="middle" font-weight="normal" fill="#000" stroke="#000" stroke-width="0.25" >穂</text>
<rect x="618.48" y="106.83" width="5.75" height="54.07" fill="url(#hatch)" stroke="#7a8a98" stroke-width="0.8"/>
<rect x="624.23" y="86.18" width="5.75" height="74.72" fill="url(#dots)" stroke="#707070" stroke-width="0.8"/>
<rect x="629.98" y="110.19" width="5.75" height="50.71" fill="#ff0000"/>
<text x="627.1" y="181.5" font-size="13" text-anchor="middle" font-weight="normal" fill="#000" stroke="#000" stroke-width="0.25" >日</text>
<text x="627.1" y="195.2" font-size="13" text-anchor="middle" font-weight="normal" fill="#000" stroke="#000" stroke-width="0.25" >向</text>
<rect x="642.67" y="116.72" width="5.75" height="44.18" fill="url(#hatch)" stroke="#7a8a98" stroke-width="0.8"/>
<rect x="648.42" y="103.40" width="5.75" height="57.50" fill="url(#dots)" stroke="#707070" stroke-width="0.8"/>
<rect x="654.17" y="87.31" width="5.75" height="73.59" fill="#ff0000"/>
<text x="651.3" y="181.5" font-size="13" text-anchor="middle" font-weight="normal" fill="#000" stroke="#000" stroke-width="0.25" >中</text>
<text x="651.3" y="195.2" font-size="13" text-anchor="middle" font-weight="normal" fill="#000" stroke="#000" stroke-width="0.25" >央</text>
<text x="402.0" y="61.5" font-size="14" text-anchor="middle" font-weight="normal" fill="#000" stroke="#000" stroke-width="0.25" >定</text>
<text x="402.0" y="77.9" font-size="14" text-anchor="middle" font-weight="normal" fill="#000" stroke="#000" stroke-width="0.25" >点</text>
<text x="402.0" y="94.3" font-size="14" text-anchor="middle" font-weight="normal" fill="#000" stroke="#000" stroke-width="0.25" >あ</text>
<text x="402.0" y="110.7" font-size="14" text-anchor="middle" font-weight="normal" fill="#000" stroke="#000" stroke-width="0.25" >た</text>
<text x="402.0" y="127.1" font-size="14" text-anchor="middle" font-weight="normal" fill="#000" stroke="#000" stroke-width="0.25" >り</text>
<text x="402.0" y="143.5" font-size="14" text-anchor="middle" font-weight="normal" fill="#000" stroke="#000" stroke-width="0.25" >報</text>
<text x="402.0" y="159.9" font-size="14" text-anchor="middle" font-weight="normal" fill="#000" stroke="#000" stroke-width="0.25" >告</text>
<text x="402.0" y="176.3" font-size="14" text-anchor="middle" font-weight="normal" fill="#000" stroke="#000" stroke-width="0.25" >数</text>
<rect x="402.6" y="217.5" width="265" height="20.3" fill="#fff" stroke="#8c8c8c" stroke-width="1"/>
<rect x="409.6" y="224.4" width="5.4" height="6.4" fill="url(#hatch)" stroke="#2e9fe0" stroke-width="0.6"/>
<text x="418.0" y="231.5" font-size="13" text-anchor="start" font-weight="normal" fill="#000" stroke="#000" stroke-width="0.3" textLength="80.5" lengthAdjust="spacingAndGlyphs" >49週(先々週)</text>
<rect x="504.2" y="224.4" width="5" height="6.4" fill="url(#dots)" stroke="#707070" stroke-width="0.6"/>
<text x="511.1" y="231.5" font-size="13" text-anchor="start" font-weight="normal" fill="#000" stroke="#000" stroke-width="0.3" textLength="78" lengthAdjust="spacingAndGlyphs" >50週(先週)</text>
<rect x="590.7" y="224.4" width="4.6" height="6.4" fill="#ff0000"/>
<text x="597.0" y="231.5" font-size="13" text-anchor="start" font-weight="normal" fill="#000" stroke="#000" stroke-width="0.3" textLength="68.7" lengthAdjust="spacingAndGlyphs" >51週(今週)</text>
</g>
<text x="368.2" y="256.3" font-size="13.5" text-anchor="middle" font-weight="500" fill="#000" stroke="#000" stroke-width="0.4" textLength="210.3" lengthAdjust="spacingAndGlyphs" >インフルエンザ　年齢群別グラフ</text>
<text x="116.3" y="277.6" font-size="15" text-anchor="middle" font-weight="bold" fill="#000" textLength="47.5" lengthAdjust="spacingAndGlyphs" >第 49 週</text>
<path d="M108.30,404.00 L108.30,306.60 A97.4,97.4 0 0 1 198.86,368.14 Z" fill="#dae3f3" stroke="#3c3c3c" stroke-width="0.75" stroke-linejoin="round"/>
<path d="M108.30,404.00 L198.86,368.14 A97.4,97.4 0 0 1 103.41,501.28 Z" fill="#8faadc" stroke="#3c3c3c" stroke-width="0.75" stroke-linejoin="round"/>
<path d="M108.30,404.00 L103.41,501.28 A97.4,97.4 0 0 1 13.11,383.35 Z" fill="#ffd966" stroke="#3c3c3c" stroke-width="0.75" stroke-linejoin="round"/>
<path d="M108.30,404.00 L13.11,383.35 A97.4,97.4 0 0 1 36.88,337.77 Z" fill="#ffc000" stroke="#3c3c3c" stroke-width="0.75" stroke-linejoin="round"/>
<path d="M108.30,404.00 L36.88,337.77 A97.4,97.4 0 0 1 97.61,307.19 Z" fill="#ffffff" stroke="#3c3c3c" stroke-width="0.75" stroke-linejoin="round"/>
<path d="M108.30,404.00 L97.61,307.19 A97.4,97.4 0 0 1 108.30,306.60 Z" fill="#e3e3e3" stroke="#3c3c3c" stroke-width="0.75" stroke-linejoin="round"/>
<text x="148.5" y="350.8" font-size="13" text-anchor="middle" font-weight="normal" fill="#000" stroke="#000" stroke-width="0.3" >5歳未満</text>
<text x="148.5" y="368.7" font-size="13" text-anchor="middle" font-weight="normal" fill="#000" stroke="#000" stroke-width="0.3" textLength="20" lengthAdjust="spacingAndGlyphs" >19%</text>
<text x="151.5" y="436.2" font-size="13" text-anchor="middle" font-weight="normal" fill="#000" stroke="#000" stroke-width="0.3" >5～9歳</text>
<text x="151.5" y="454.9" font-size="13" text-anchor="middle" font-weight="normal" fill="#000" stroke="#000" stroke-width="0.3" textLength="20" lengthAdjust="spacingAndGlyphs" >32%</text>
<text x="61.0" y="441.2" font-size="13" text-anchor="middle" font-weight="normal" fill="#000" stroke="#000" stroke-width="0.3" >10～14歳</text>
<text x="61.0" y="459.0" font-size="13" text-anchor="middle" font-weight="normal" fill="#000" stroke="#000" stroke-width="0.3" textLength="20" lengthAdjust="spacingAndGlyphs" >28%</text>
<text x="42.5" y="371.0" font-size="10" text-anchor="middle" font-weight="normal" fill="#000" stroke="#000" stroke-width="0.25" >15～19歳</text>
<text x="42.5" y="386.3" font-size="10.8" text-anchor="middle" font-weight="normal" fill="#000" stroke="#000" stroke-width="0.25" textLength="11" lengthAdjust="spacingAndGlyphs" >8%</text>
<text x="69.0" y="337.5" font-size="10" text-anchor="middle" font-weight="normal" fill="#000" stroke="#000" stroke-width="0.25" >20～59歳</text>
<text x="69.0" y="351.3" font-size="10.8" text-anchor="middle" font-weight="normal" fill="#000" stroke="#000" stroke-width="0.25" textLength="15.8" lengthAdjust="spacingAndGlyphs" >11%</text>
<text x="72.0" y="295.0" font-size="10" text-anchor="start" font-weight="normal" fill="#000" stroke="#000" stroke-width="0.2" >60歳以上<tspan x="118.8" textLength="10.3" lengthAdjust="spacingAndGlyphs">2%</tspan></text>
<line x1="102.5" y1="298.3" x2="102.5" y2="305.8" stroke="#555" stroke-width="0.8"/>
<text x="353.0" y="277.6" font-size="15" text-anchor="middle" font-weight="bold" fill="#000" textLength="47.5" lengthAdjust="spacingAndGlyphs" >第 50 週</text>
<path d="M346.70,403.80 L346.70,305.30 A98.5,98.5 0 0 1 436.35,362.98 Z" fill="#dae3f3" stroke="#3c3c3c" stroke-width="0.75" stroke-linejoin="round"/>
<path d="M346.70,403.80 L436.35,362.98 A98.5,98.5 0 0 1 339.28,502.02 Z" fill="#8faadc" stroke="#3c3c3c" stroke-width="0.75" stroke-linejoin="round"/>
<path d="M346.70,403.80 L339.28,502.02 A98.5,98.5 0 0 1 250.44,382.92 Z" fill="#ffd966" stroke="#3c3c3c" stroke-width="0.75" stroke-linejoin="round"/>
<path d="M346.70,403.80 L250.44,382.92 A98.5,98.5 0 0 1 280.64,330.74 Z" fill="#ffc000" stroke="#3c3c3c" stroke-width="0.75" stroke-linejoin="round"/>
<path d="M346.70,403.80 L280.64,330.74 A98.5,98.5 0 0 1 333.74,306.16 Z" fill="#ffffff" stroke="#3c3c3c" stroke-width="0.75" stroke-linejoin="round"/>
<path d="M346.70,403.80 L333.74,306.16 A98.5,98.5 0 0 1 346.70,305.30 Z" fill="#e3e3e3" stroke="#3c3c3c" stroke-width="0.75" stroke-linejoin="round"/>
<text x="381.8" y="346.8" font-size="13" text-anchor="middle" font-weight="normal" fill="#000" stroke="#000" stroke-width="0.3" >5歳未満</text>
<text x="382.9" y="362.2" font-size="13" text-anchor="middle" font-weight="normal" fill="#000" stroke="#000" stroke-width="0.3" textLength="20" lengthAdjust="spacingAndGlyphs" >18%</text>
<text x="388.9" y="432.2" font-size="13" text-anchor="middle" font-weight="normal" fill="#000" stroke="#000" stroke-width="0.3" >5～9歳</text>
<text x="389.6" y="449.7" font-size="13" text-anchor="middle" font-weight="normal" fill="#000" stroke="#000" stroke-width="0.3" textLength="20" lengthAdjust="spacingAndGlyphs" >34%</text>
<text x="296.1" y="436.8" font-size="13" text-anchor="middle" font-weight="normal" fill="#000" stroke="#000" stroke-width="0.3" >10～14歳</text>
<text x="295.4" y="453.3" font-size="13" text-anchor="middle" font-weight="normal" fill="#000" stroke="#000" stroke-width="0.3" textLength="20" lengthAdjust="spacingAndGlyphs" >27%</text>
<text x="282.9" y="369.6" font-size="10.5" text-anchor="middle" font-weight="normal" fill="#000" stroke="#000" stroke-width="0.25" >15～19歳</text>
<text x="282.9" y="385.2" font-size="10.8" text-anchor="middle" font-weight="normal" fill="#000" stroke="#000" stroke-width="0.25" textLength="15.8" lengthAdjust="spacingAndGlyphs" >10%</text>
<text x="311.4" y="339.2" font-size="10" text-anchor="middle" font-weight="normal" fill="#000" stroke="#000" stroke-width="0.25" >20～59歳</text>
<text x="311.4" y="350.9" font-size="10.8" text-anchor="middle" font-weight="normal" fill="#000" stroke="#000" stroke-width="0.25" textLength="11" lengthAdjust="spacingAndGlyphs" >9%</text>
<text x="315.4" y="295.6" font-size="10" text-anchor="start" font-weight="normal" fill="#000" stroke="#000" stroke-width="0.2" >60歳以上<tspan x="359.4" textLength="10.3" lengthAdjust="spacingAndGlyphs">2%</tspan></text>
<line x1="339.4" y1="298.3" x2="339.4" y2="304.8" stroke="#555" stroke-width="0.8"/>
<text x="596.5" y="277.6" font-size="15" text-anchor="middle" font-weight="bold" fill="#000" textLength="47.5" lengthAdjust="spacingAndGlyphs" >第 51 週</text>
<path d="M592.30,404.30 L592.30,307.60 A96.7,96.7 0 0 1 676.15,356.13 Z" fill="#dae3f3" stroke="#3c3c3c" stroke-width="0.75" stroke-linejoin="round"/>
<path d="M592.30,404.30 L676.15,356.13 A96.7,96.7 0 0 1 612.80,498.80 Z" fill="#8faadc" stroke="#3c3c3c" stroke-width="0.75" stroke-linejoin="round"/>
<path d="M592.30,404.30 L612.80,498.80 A96.7,96.7 0 0 1 496.29,415.82 Z" fill="#ffd966" stroke="#3c3c3c" stroke-width="0.75" stroke-linejoin="round"/>
<path d="M592.30,404.30 L496.29,415.82 A96.7,96.7 0 0 1 508.15,356.65 Z" fill="#ffc000" stroke="#3c3c3c" stroke-width="0.75" stroke-linejoin="round"/>
<path d="M592.30,404.30 L508.15,356.65 A96.7,96.7 0 0 1 576.57,308.89 Z" fill="#ffffff" stroke="#3c3c3c" stroke-width="0.75" stroke-linejoin="round"/>
<path d="M592.30,404.30 L576.57,308.89 A96.7,96.7 0 0 1 592.30,307.60 Z" fill="#e3e3e3" stroke="#3c3c3c" stroke-width="0.75" stroke-linejoin="round"/>
<text x="627.8" y="349.1" font-size="13" text-anchor="middle" font-weight="normal" fill="#000" stroke="#000" stroke-width="0.3" >5歳未満</text>
<text x="627.8" y="366.1" font-size="13" text-anchor="middle" font-weight="normal" fill="#000" stroke="#000" stroke-width="0.3" textLength="20" lengthAdjust="spacingAndGlyphs" >17%</text>
<text x="648.9" y="435.0" font-size="13" text-anchor="middle" font-weight="normal" fill="#000" stroke="#000" stroke-width="0.3" >5～9歳</text>
<text x="650.3" y="452.4" font-size="13" text-anchor="middle" font-weight="normal" fill="#000" stroke="#000" stroke-width="0.3" textLength="20" lengthAdjust="spacingAndGlyphs" >30%</text>
<text x="550.3" y="448.4" font-size="13" text-anchor="middle" font-weight="normal" fill="#000" stroke="#000" stroke-width="0.3" >10～14歳</text>
<text x="551.0" y="466.4" font-size="13" text-anchor="middle" font-weight="normal" fill="#000" stroke="#000" stroke-width="0.3" textLength="20" lengthAdjust="spacingAndGlyphs" >26%</text>
<text x="522.1" y="390.2" font-size="10" text-anchor="middle" font-weight="normal" fill="#000" stroke="#000" stroke-width="0.25" >15～19歳</text>
<text x="522.8" y="406.0" font-size="10.8" text-anchor="middle" font-weight="normal" fill="#000" stroke="#000" stroke-width="0.25" textLength="15.8" lengthAdjust="spacingAndGlyphs" >10%</text>
<text x="552.8" y="346.8" font-size="10" text-anchor="middle" font-weight="normal" fill="#000" stroke="#000" stroke-width="0.25" >20～59歳</text>
<text x="552.8" y="360.2" font-size="10.8" text-anchor="middle" font-weight="normal" fill="#000" stroke="#000" stroke-width="0.25" textLength="15.8" lengthAdjust="spacingAndGlyphs" >14%</text>
<text x="563.6" y="298.0" font-size="10" text-anchor="start" font-weight="normal" fill="#000" stroke="#000" stroke-width="0.2" >60歳以上<tspan x="613.9" textLength="10.3" lengthAdjust="spacingAndGlyphs">3%</tspan></text>
<line x1="584.1" y1="301.9" x2="584.1" y2="308.2" stroke="#555" stroke-width="0.8"/>
<defs>
<path id="rTK" d="M86.00,560.30 L86.53,558.43 L86.36,556.43 L87.10,554.60 L88.63,552.92 L90.00,551.10 L92.02,550.29 L94.00,549.40 L95.17,547.86 L95.70,546.00 L97.03,544.95 L98.60,544.30 L98.88,542.00 L99.10,539.70 L100.30,538.23 L102.00,537.40 L103.73,537.33 L105.40,536.90 L107.49,537.12 L109.40,538.00 L110.60,539.70 L112.34,539.55 L113.97,540.32 L115.70,540.30 L117.45,540.26 L119.10,539.70 L120.45,540.97 L122.00,542.00 L122.60,544.90 L120.30,547.10 L119.02,548.45 L118.00,550.00 L117.10,551.38 L115.88,552.53 L115.10,554.00 L114.17,555.40 L114.00,557.08 L113.40,558.60 L113.08,560.84 L112.90,563.10 L112.30,565.40 L109.96,565.52 L107.70,564.90 L106.41,563.89 L105.40,562.60 L104.57,560.94 L104.30,559.10 L102.49,558.16 L100.90,556.90 L99.17,557.51 L97.40,558.00 L96.03,559.01 L94.41,559.55 L92.90,560.30 L90.78,560.42 L88.90,561.40 Z"/>
<path id="rNB" d="M120.30,547.10 L122.71,547.29 L124.90,548.30 L126.74,548.09 L128.30,547.10 L129.91,548.18 L131.70,548.90 L134.04,548.94 L136.30,548.30 L138.60,546.60 L139.79,545.18 L140.90,543.70 L142.60,544.02 L144.30,544.30 L146.09,544.98 L147.70,546.00 L148.90,548.90 L147.93,550.47 L147.70,552.30 L149.40,554.60 L147.91,555.64 L146.60,556.90 L145.84,558.54 L145.40,560.30 L143.69,560.99 L142.11,561.97 L140.38,562.60 L138.60,563.10 L136.94,564.10 L135.48,565.37 L134.00,566.60 L132.68,567.86 L131.70,569.40 L130.99,571.36 L130.60,573.40 L132.30,575.70 L131.70,577.40 L129.89,577.19 L128.30,576.30 L127.06,575.27 L126.07,574.00 L124.90,572.90 L123.43,571.65 L121.57,570.92 L120.30,569.40 L118.58,569.01 L117.13,568.08 L115.70,567.10 L114.12,566.01 L112.30,565.40 L112.90,563.10 L113.08,560.84 L113.40,558.60 L114.00,557.08 L114.17,555.40 L115.10,554.00 L115.88,552.53 L117.10,551.38 L118.00,550.00 L119.02,548.45 Z"/>
<path id="rHY" d="M86.00,560.30 L88.90,561.40 L90.78,560.42 L92.90,560.30 L94.41,559.55 L96.03,559.01 L97.40,558.00 L99.17,557.51 L100.90,556.90 L102.49,558.16 L104.30,559.10 L104.57,560.94 L105.40,562.60 L106.41,563.89 L107.70,564.90 L109.96,565.52 L112.30,565.40 L114.12,566.01 L115.70,567.10 L117.13,568.08 L118.58,569.01 L120.30,569.40 L121.57,570.92 L123.43,571.65 L124.90,572.90 L126.07,574.00 L127.06,575.27 L128.30,576.30 L129.89,577.19 L131.70,577.40 L129.86,577.84 L128.30,578.90 L126.60,581.10 L127.70,582.90 L126.49,584.49 L124.90,585.70 L123.21,587.19 L122.00,589.10 L121.11,590.75 L119.70,592.00 L118.00,594.30 L116.36,593.33 L114.60,592.60 L112.85,592.36 L111.10,592.60 L108.90,590.30 L106.60,590.54 L104.30,590.30 L102.54,589.58 L100.90,588.60 L99.19,587.88 L97.40,587.40 L95.73,587.84 L94.00,588.00 L92.32,586.81 L90.60,585.70 L89.07,584.99 L87.70,584.00 L86.14,584.58 L84.90,585.70 L83.34,584.47 L81.40,584.00 L79.70,581.70 L78.89,579.46 L78.60,577.10 L77.79,575.38 L76.90,573.70 L76.34,572.06 L75.60,570.50 L75.85,568.74 L75.50,567.00 L76.39,565.10 L76.50,563.00 L77.29,560.89 L78.50,559.00 L81.00,557.20 L84.00,557.60 L84.78,559.11 Z"/>
<path id="rTN" d="M81.40,584.00 L83.34,584.47 L84.90,585.70 L86.14,584.58 L87.70,584.00 L89.07,584.99 L90.60,585.70 L92.32,586.81 L94.00,588.00 L95.73,587.84 L97.40,587.40 L99.19,587.88 L100.90,588.60 L102.54,589.58 L104.30,590.30 L106.60,590.54 L108.90,590.30 L111.10,592.60 L112.85,592.36 L114.60,592.60 L116.36,593.33 L118.00,594.30 L116.99,596.10 L116.46,598.10 L115.70,600.00 L115.28,602.04 L114.07,603.76 L113.40,605.70 L112.81,607.67 L111.95,609.53 L111.10,611.40 L110.28,613.17 L109.40,614.90 L107.73,616.33 L106.30,618.00 L104.14,617.28 L102.00,616.50 L100.24,616.19 L98.50,615.80 L96.00,616.90 L94.67,615.93 L94.01,614.30 L92.60,613.40 L91.17,612.56 L90.17,611.29 L88.88,610.30 L88.00,608.90 L86.38,607.66 L84.72,606.48 L83.40,604.90 L82.14,603.87 L80.81,602.90 L80.03,601.35 L78.60,600.50 L78.21,598.49 L77.40,596.60 L76.40,594.92 L75.70,593.10 L74.73,591.54 L74.60,589.70 L75.86,588.39 L76.90,586.90 L78.24,585.68 L79.75,584.73 Z"/>
<path id="rCH" d="M83.40,604.90 L84.72,606.48 L86.38,607.66 L88.00,608.90 L88.88,610.30 L90.17,611.29 L91.17,612.56 L92.60,613.40 L94.01,614.30 L94.67,615.93 L96.00,616.90 L98.50,615.80 L97.73,617.73 L97.10,619.70 L96.00,621.40 L94.30,621.17 L92.60,620.90 L90.89,621.42 L89.10,621.40 L87.46,620.66 L85.70,620.30 L82.90,620.50 L82.30,619.10 L81.66,617.53 L81.14,615.91 L80.00,614.60 L80.71,612.64 L81.10,610.60 L81.76,608.66 L82.38,606.70 Z"/>
<path id="rKB" d="M44.60,601.40 L46.90,599.70 L48.74,600.37 L50.65,600.72 L52.60,600.90 L54.85,601.44 L57.10,602.00 L59.19,601.79 L61.10,600.90 L63.12,601.37 L65.10,602.00 L66.83,600.83 L68.00,599.10 L69.69,598.43 L71.40,597.80 L74.30,599.10 L76.32,600.20 L78.60,600.50 L80.03,601.35 L80.81,602.90 L82.14,603.87 L83.40,604.90 L82.38,606.70 L81.76,608.66 L81.10,610.60 L80.71,612.64 L80.00,614.60 L81.14,615.91 L81.66,617.53 L82.30,619.10 L82.90,620.50 L80.98,621.45 L78.90,622.00 L76.58,621.83 L74.30,621.40 L72.00,622.60 L70.00,622.41 L68.00,622.60 L66.36,623.34 L64.60,623.70 L62.64,624.25 L60.60,624.30 L58.56,623.83 L56.60,623.10 L55.43,621.41 L54.30,619.70 L52.56,618.25 L51.40,616.30 L49.98,614.78 L49.10,612.90 L48.95,610.89 L48.60,608.90 L47.35,607.64 L46.32,606.19 L45.10,604.90 L44.91,603.14 Z"/>
<path id="rMK" d="M56.60,623.10 L58.56,623.83 L60.60,624.30 L62.64,624.25 L64.60,623.70 L66.36,623.34 L68.00,622.60 L70.00,622.41 L72.00,622.60 L74.30,621.40 L76.58,621.83 L78.90,622.00 L80.98,621.45 L82.90,620.50 L82.34,622.56 L81.10,624.30 L81.12,626.04 L80.60,627.70 L81.79,628.81 L82.90,630.00 L81.95,631.58 L81.70,633.40 L81.72,635.20 L82.30,636.90 L82.60,638.59 L82.80,640.30 L83.70,642.60 L82.71,643.91 L82.00,645.40 L80.42,646.07 L79.05,647.16 L77.40,647.70 L75.49,648.90 L74.00,650.60 L73.39,652.84 L72.90,655.10 L71.02,654.44 L69.10,654.03 L67.10,654.00 L65.39,652.56 L63.70,651.10 L63.50,649.09 L63.10,647.10 L62.65,644.87 L62.60,642.60 L61.60,640.99 L61.40,639.10 L60.90,636.30 L59.47,635.47 L58.11,634.54 L56.90,633.40 L55.04,632.14 L53.40,630.60 L53.10,628.00 L53.70,625.40 L55.36,624.52 Z"/>
<path id="rMZ" d="M98.50,615.80 L100.24,616.19 L102.00,616.50 L104.14,617.28 L106.30,618.00 L105.74,619.79 L104.45,621.26 L104.00,623.10 L103.14,624.95 L103.05,627.02 L102.30,628.90 L101.40,630.00 L100.87,632.31 L100.30,634.60 L100.18,636.51 L99.79,638.39 L99.70,640.30 L100.90,643.10 L99.96,644.73 L99.70,646.60 L98.60,648.90 L97.11,647.80 L95.70,646.60 L94.35,645.31 L93.40,643.70 L91.87,642.30 L90.00,641.40 L88.49,640.17 L86.60,639.70 L84.66,639.76 L82.80,640.30 L82.60,638.59 L82.30,636.90 L81.72,635.20 L81.70,633.40 L81.95,631.58 L82.90,630.00 L81.79,628.81 L80.60,627.70 L81.12,626.04 L81.10,624.30 L82.34,622.56 L82.90,620.50 L85.70,620.30 L87.46,620.66 L89.10,621.40 L90.89,621.42 L92.60,620.90 L94.30,621.17 L96.00,621.40 L97.10,619.70 L97.73,617.73 Z"/>
<path id="rNC" d="M82.80,640.30 L84.66,639.76 L86.60,639.70 L88.49,640.17 L90.00,641.40 L91.87,642.30 L93.40,643.70 L94.35,645.31 L95.70,646.60 L97.11,647.80 L98.60,648.90 L97.54,650.81 L96.90,652.90 L96.26,654.55 L96.79,656.33 L96.30,658.00 L94.77,659.63 L93.40,661.40 L91.64,662.78 L90.00,664.30 L89.80,665.97 L89.18,667.48 L88.30,668.90 L87.89,670.46 L86.81,671.77 L86.60,673.40 L86.44,675.08 L85.60,676.51 L84.90,678.00 L84.08,679.51 L83.45,681.11 L82.60,682.60 L81.76,684.22 L81.40,686.00 L80.30,688.90 L79.35,687.01 L79.10,684.90 L77.44,684.69 L75.99,683.96 L74.60,683.10 L73.40,680.30 L74.00,678.00 L72.23,676.87 L71.10,675.10 L68.90,672.90 L68.97,671.12 L69.40,669.40 L70.90,668.32 L72.30,667.10 L72.23,665.04 L72.90,663.10 L73.84,660.94 L74.00,658.60 L74.60,655.70 L72.90,655.10 L73.39,652.84 L74.00,650.60 L75.49,648.90 L77.40,647.70 L79.05,647.16 L80.42,646.07 L82.00,645.40 L82.71,643.91 L83.70,642.60 Z"/>
</defs>
<g transform="translate(0,0)" stroke="#111" stroke-width="0.75" stroke-linejoin="round">
<use href="#rTK" fill="#ff0000"/>
<use href="#rNB" fill="#ff0000"/>
<use href="#rHY" fill="#ffffff"/>
<use href="#rTN" fill="#ffffff"/>
<use href="#rCH" fill="#ffff00"/>
<use href="#rKB" fill="#ffff00"/>
<use href="#rMK" fill="#ffff00"/>
<use href="#rMZ" fill="#ffff00"/>
<use href="#rNC" fill="#ffff00"/>
</g>
<g transform="translate(107.3,-0.5)" stroke="#111" stroke-width="0.75" stroke-linejoin="round">
<use href="#rTK" fill="#ff0000"/>
<use href="#rNB" fill="#ff0000"/>
<use href="#rHY" fill="#ff0000"/>
<use href="#rTN" fill="#ffff00"/>
<use href="#rCH" fill="#ff0000"/>
<use href="#rKB" fill="#ff0000"/>
<use href="#rMK" fill="#ff0000"/>
<use href="#rMZ" fill="#ff0000"/>
<use href="#rNC" fill="#ff0000"/>
</g>
<g transform="translate(217.3,-5.4)" stroke="#111" stroke-width="0.75" stroke-linejoin="round">
<use href="#rTK" fill="#ff0000"/>
<use href="#rNB" fill="#ff0000"/>
<use href="#rHY" fill="#ff0000"/>
<use href="#rTN" fill="#ff0000"/>
<use href="#rCH" fill="#ff0000"/>
<use href="#rKB" fill="#ff0000"/>
<use href="#rMK" fill="#ff0000"/>
<use href="#rMZ" fill="#ff0000"/>
<use href="#rNC" fill="#ff0000"/>
</g>
<g transform="translate(320.4,-2.0)" stroke="#111" stroke-width="0.75" stroke-linejoin="round">
<use href="#rTK" fill="#ff0000"/>
<use href="#rNB" fill="#ff0000"/>
<use href="#rHY" fill="#ff0000"/>
<use href="#rTN" fill="#ff0000"/>
<use href="#rCH" fill="#ff0000"/>
<use href="#rKB" fill="#ff0000"/>
<use href="#rMK" fill="#ff0000"/>
<use href="#rMZ" fill="#ff0000"/>
<use href="#rNC" fill="#ff0000"/>
</g>
<g transform="translate(423.0,0.8)" stroke="#111" stroke-width="0.75" stroke-linejoin="round">
<use href="#rTK" fill="#ff0000"/>
<use href="#rNB" fill="#ff0000"/>
<use href="#rHY" fill="#ff0000"/>
<use href="#rTN" fill="#ff0000"/>
<use href="#rCH" fill="#ff0000"/>
<use href="#rKB" fill="#ff0000"/>
<use href="#rMK" fill="#ff0000"/>
<use href="#rMZ" fill="#ff0000"/>
<use href="#rNC" fill="#ff0000"/>
</g>
<text x="86.6" y="521.5" font-size="14" text-anchor="start" font-weight="normal" fill="#000" stroke="#000" stroke-width="0.35" textLength="262.7" lengthAdjust="spacingAndGlyphs" >保健所別インフルエンザ流行レベルマップ</text>
<text x="365.0" y="522.3" font-size="14" text-anchor="start" font-weight="normal" fill="#000" stroke="#000" stroke-width="0.35" textLength="202.5" lengthAdjust="spacingAndGlyphs" ><tspan font-size="15.5">2025</tspan> 年第 <tspan font-size="15.5">47</tspan> 週～<tspan font-size="15.5">2025</tspan> 年第 <tspan font-size="15.5">51</tspan> 週</text>
<text x="50.0" y="707.8" font-size="14.5" text-anchor="start" font-weight="normal" fill="#000" stroke="#000" stroke-width="0.35" textLength="79.5" lengthAdjust="spacingAndGlyphs" ><tspan font-size="15.8">2025</tspan> 年 <tspan font-size="15.8">47</tspan> 週</text>
<text x="51.5" y="726.3" font-size="14.5" text-anchor="start" font-weight="normal" fill="#000" stroke="#000" stroke-width="0.35" textLength="82.5" lengthAdjust="spacingAndGlyphs" >(県全体 <tspan font-size="16">24.</tspan><tspan dx="2" font-size="16">6</tspan>)</text>
<text x="151.0" y="707.8" font-size="14.5" text-anchor="start" font-weight="normal" fill="#000" stroke="#000" stroke-width="0.35" textLength="79.5" lengthAdjust="spacingAndGlyphs" ><tspan font-size="15.8">2025</tspan> 年 <tspan font-size="15.8">48</tspan> 週</text>
<text x="152.5" y="726.3" font-size="14.5" text-anchor="start" font-weight="normal" fill="#000" stroke="#000" stroke-width="0.35" textLength="82.5" lengthAdjust="spacingAndGlyphs" >(県全体 <tspan font-size="16">38.</tspan><tspan dx="2" font-size="16">0</tspan>)</text>
<text x="259.4" y="707.8" font-size="14.5" text-anchor="start" font-weight="normal" fill="#000" stroke="#000" stroke-width="0.35" textLength="79.5" lengthAdjust="spacingAndGlyphs" ><tspan font-size="15.8">2025</tspan> 年 <tspan font-size="15.8">49</tspan> 週</text>
<text x="260.9" y="726.3" font-size="14.5" text-anchor="start" font-weight="normal" fill="#000" stroke="#000" stroke-width="0.35" textLength="82.5" lengthAdjust="spacingAndGlyphs" >(県全体 <tspan font-size="16">62.</tspan><tspan dx="2" font-size="16">5</tspan>)</text>
<text x="367.2" y="707.8" font-size="14.5" text-anchor="start" font-weight="normal" fill="#000" stroke="#000" stroke-width="0.35" textLength="79.5" lengthAdjust="spacingAndGlyphs" ><tspan font-size="15.8">2025</tspan> 年 <tspan font-size="15.8">50</tspan> 週</text>
<text x="368.7" y="726.3" font-size="14.5" text-anchor="start" font-weight="normal" fill="#000" stroke="#000" stroke-width="0.35" textLength="82.5" lengthAdjust="spacingAndGlyphs" >(県全体 <tspan font-size="16">99.</tspan><tspan dx="2" font-size="16">9</tspan>)</text>
<text x="475.6" y="707.8" font-size="14.5" text-anchor="start" font-weight="normal" fill="#000" stroke="#000" stroke-width="0.35" textLength="79.5" lengthAdjust="spacingAndGlyphs" ><tspan font-size="15.8">2025</tspan> 年 <tspan font-size="15.8">51</tspan> 週</text>
<text x="477.1" y="726.3" font-size="14.5" text-anchor="start" font-weight="normal" fill="#000" stroke="#000" stroke-width="0.35" textLength="82.5" lengthAdjust="spacingAndGlyphs" >(県全体 <tspan font-size="16">94.</tspan><tspan dx="2" font-size="16">8</tspan>)</text>
<text x="611.0" y="578.8" font-size="10.5" text-anchor="start" font-weight="bold" fill="#000" textLength="50.8" lengthAdjust="spacingAndGlyphs" >定点あたり</text>
<text x="611.0" y="592.6" font-size="10.5" text-anchor="start" font-weight="bold" fill="#000" >報告数</text>
<rect x="618" y="601" width="25" height="23" fill="#ff0000" stroke="#1a1a1a" stroke-width="1"/>
<rect x="618" y="624" width="25" height="23" fill="#ffff00" stroke="#1a1a1a" stroke-width="1"/>
<rect x="618" y="647" width="25" height="23" fill="#ffffff" stroke="#1a1a1a" stroke-width="1"/>
<text x="648" y="617" font-size="12" font-family="'Liberation Serif', serif">30</text>
<text x="648" y="644.7" font-size="12" font-family="'Liberation Serif', serif">10</text>
</svg></body></html>
